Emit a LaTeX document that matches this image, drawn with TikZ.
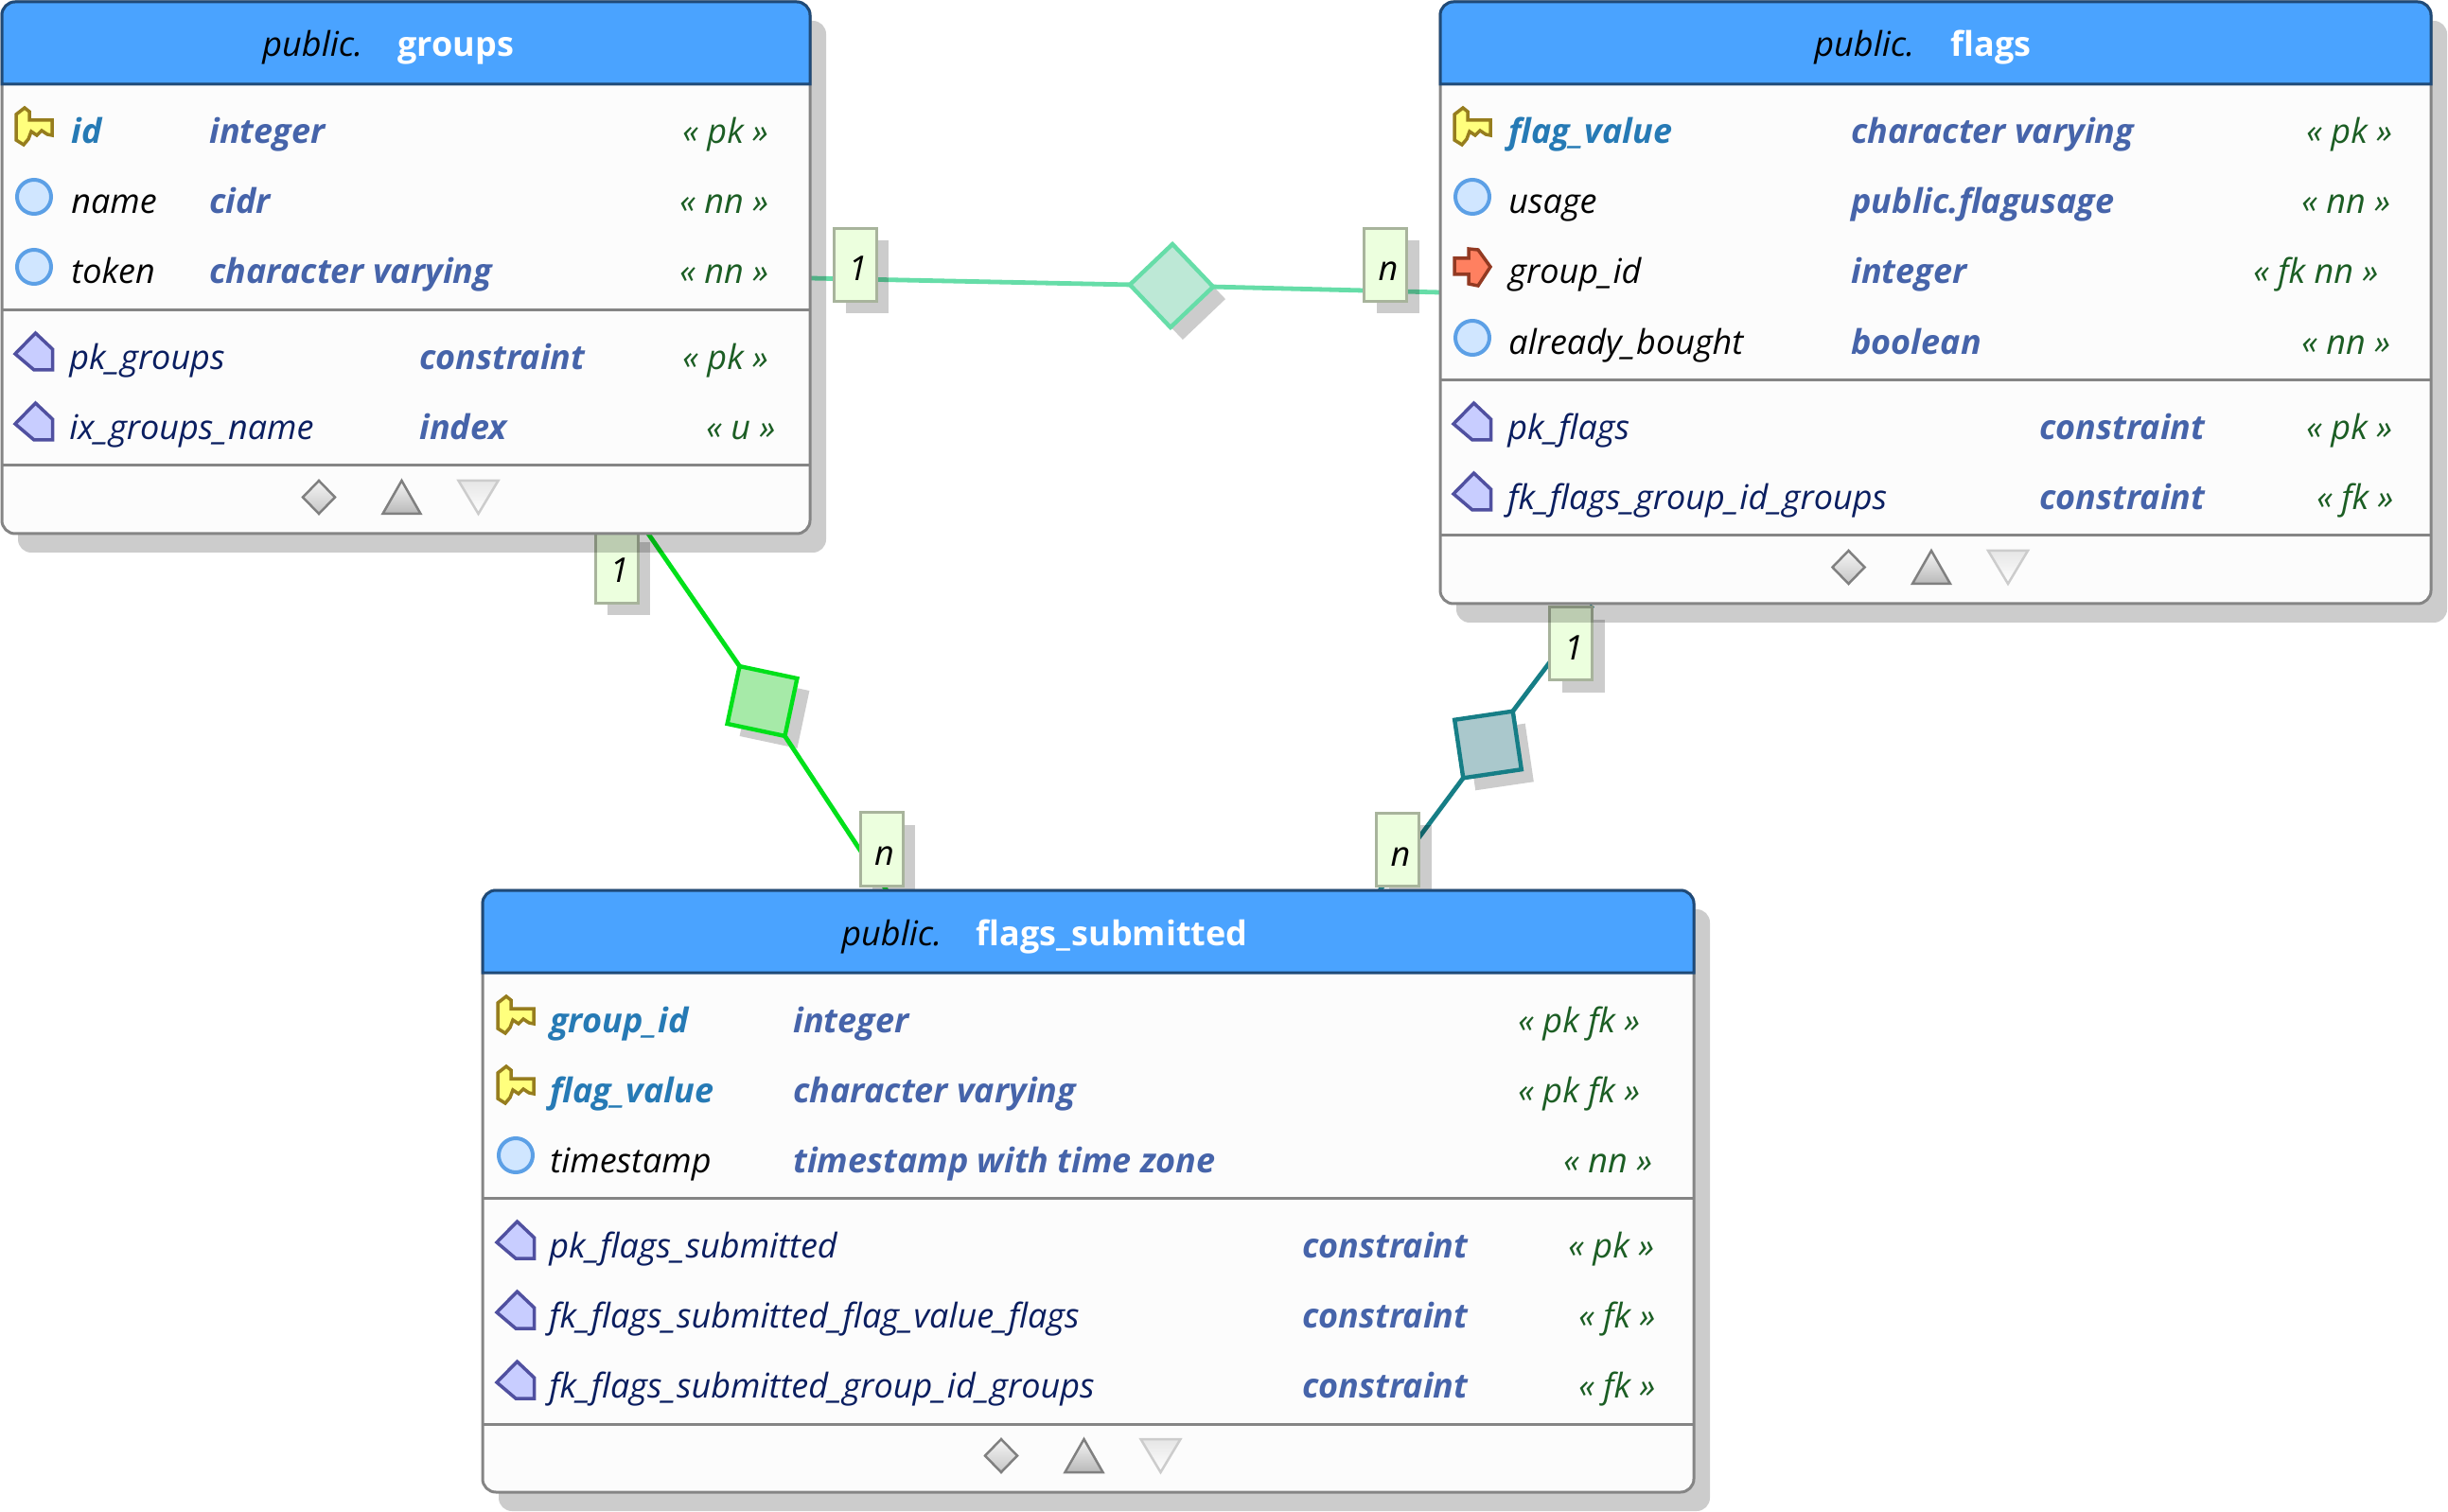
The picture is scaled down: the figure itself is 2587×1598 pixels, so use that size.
\documentclass[tikz,border=0pt]{standalone}
\usepackage{fontspec}
\setmainfont{Open Sans}
\usetikzlibrary{shapes.geometric,shadows}
\definecolor{headBlue}{RGB}{74,163,255}
\definecolor{headLine}{RGB}{31,74,120}
\definecolor{boxLine}{RGB}{133,133,133}
\definecolor{boxFill}{RGB}{252,252,252}
\definecolor{pkText}{RGB}{38,122,181}
\definecolor{typeText}{RGB}{70,100,170}
\definecolor{consText}{RGB}{10,30,96}
\definecolor{tagText}{RGB}{28,94,36}
\definecolor{cardFill}{RGB}{236,255,222}
\definecolor{cardLine}{RGB}{168,180,156}
\definecolor{relA}{RGB}{102,221,168}
\definecolor{relAfill}{RGB}{189,232,214}
\definecolor{relB}{RGB}{0,224,26}
\definecolor{relBfill}{RGB}{166,234,168}
\definecolor{relC}{RGB}{22,126,134}
\definecolor{relCfill}{RGB}{170,200,204}
\definecolor{keyLine}{RGB}{150,125,30}
\definecolor{keyFill}{RGB}{255,255,125}
\definecolor{colLine}{RGB}{92,160,230}
\definecolor{colFill}{RGB}{208,230,255}
\definecolor{fkLine}{RGB}{147,58,34}
\definecolor{fkFill}{RGB}{255,128,96}
\definecolor{consLine}{RGB}{80,80,160}
\definecolor{consFill}{RGB}{200,205,255}
\newcommand{\rowfont}{\fontsize{18pt}{20pt}\selectfont}
\newcommand{\us}{\kern.35pt\_\kern.35pt}

\begin{document}
\begin{tikzpicture}[x=0.5pt,y=-0.5pt,
    tablebox/.style={rectangle,draw=boxLine,fill=boxFill,line width=1.5pt,
                     rounded corners=7pt,anchor=north west,inner sep=0pt,outer sep=0pt,
                     drop shadow={shadow xshift=8.5pt,shadow yshift=-10pt,opacity=.2,fill=black}},
    headtxt/.style={anchor=base west,inner sep=0pt,font=\rowfont\itshape},
    headname/.style={anchor=base west,inner sep=0pt,text=white,font=\rowfont\bfseries},
    pkname/.style={anchor=base west,inner sep=0pt,text=pkText,font=\rowfont\bfseries\itshape},
    colname/.style={anchor=base west,inner sep=0pt,font=\rowfont\itshape},
    consname/.style={anchor=base west,inner sep=0pt,text=consText,font=\rowfont\itshape},
    typename/.style={anchor=base west,inner sep=0pt,text=typeText,font=\rowfont\bfseries\itshape},
    tagname/.style={anchor=base west,inner sep=0pt,text=tagText,font=\rowfont\itshape},
    cardbox/.style={rectangle,draw=cardLine,fill=cardFill,line width=1.5pt,inner sep=0pt,
                    minimum width=22.5pt,minimum height=38.5pt,
                    drop shadow={shadow xshift=6.5pt,shadow yshift=-6.5pt,opacity=.2,fill=black}},
    cardtxt/.style={anchor=base,inner sep=0pt,font=\rowfont\itshape},
    reldia/.style={diamond,aspect=1,minimum size=44pt,inner sep=0pt,outer sep=0pt,line width=2.2pt,
                   drop shadow={shadow xshift=6.5pt,shadow yshift=-6.5pt,opacity=.2,fill=black}},
    relline/.style={line width=2.4pt},
    sepline/.style={draw=boxLine,line width=1.5pt},
    keyicon/.pic={\draw[draw=keyLine,fill=keyFill,line width=1.75pt]
      (-10,-20) -- (-5,-16) -- (-5,-7) -- (19,-7) -- (19,9) -- (14,8) -- (8,4) -- (3,9)
      -- (-3,5) -- (-6,13) -- (-11,19) -- (-19,14) -- (-19,-13) -- cycle;},
    colicon/.pic={\draw[draw=colLine,fill=colFill,line width=2pt] (0,0) circle (18);},
    fkicon/.pic={\draw[draw=fkLine,fill=fkFill,line width=1.75pt]
      (-19,-9) -- (-4,-9) -- (-4,-19) -- (6,-18) -- (19,0) -- (6,20) -- (-4,18)
      -- (-4,8) -- (-19,8) -- cycle;},
    consicon/.pic={\draw[draw=consLine,fill=consFill,line width=1.75pt]
      (1.5,-20) -- (19.5,-3) -- (19.5,19) -- (0,19) -- (-20,2) -- cycle;}]

    \useasboundingbox (0,0) rectangle (2587,1598);

    % Relationship diamonds
    \node[reldia,draw=relA,fill=relAfill,rotate=-1.4] (diaA) at (1238,302) {};
    \node[reldia,draw=relB,fill=relBfill,rotate=33] (diaB) at (805.5,741) {};
    \node[reldia,draw=relC,fill=relCfill,rotate=-36.6] (diaC) at (1572.5,787) {};

    % Connectors
    \coordinate (grpA) at (856,294);
    \coordinate (flgA) at (1522,309);
    \coordinate (grpB) at (685,564);
    \coordinate (subB) at (937,941);
    \coordinate (flgC) at (1683,640);
    \coordinate (subC) at (1458,941);
    \draw[relline,relA] (grpA) -- (diaA.west);
    \draw[relline,relA] (diaA.east) -- (flgA);
    \draw[relline,relB] (grpB) -- (diaB.north);
    \draw[relline,relB] (diaB.south) -- (subB);
    \draw[relline,relC] (flgC) -- (diaC.north);
    \draw[relline,relC] (diaC.south) -- (subC);

    % Cardinality labels
    \foreach \nm/\xa/\ya/\tx in {cardAa/903.5/280/1,cardAb/1464/280/n,cardBa/651.5/599/1,
                                 cardBb/931.5/897.5/n,cardCa/1660/680.5/1,cardCb/1477/898/n} {
      \node[cardbox] (\nm) at (\xa,\ya) {};
      \node[cardtxt] (\nm t) at ([shift={(3,57)}]\nm.north) {\tx};
    }

    % Table frames
    \foreach \nm/\xa/\ya/\w/\h/\ys/\yc in {grp/2/0/854/562/328/492,
                                           flg/1522/0/1047/636/402/566,
                                           sub/510/939/1280/636/327/566} {
      \begin{scope}[shift={(\xa,\ya)}]
        \pgfmathsetmacro{\hw}{\w/2*0.5}
        \pgfmathsetmacro{\hh}{\h*0.5}
        \node[tablebox,minimum width=\hw pt*2,minimum height=\hh pt] (\nm) at (0,2) {};
        \draw[draw=headLine,fill=headBlue,line width=1.5pt]
          (0,89) [rounded corners=7pt] -- (0,2) -- (\w,2) [sharp corners] -- (\w,89) -- cycle;
        \draw[sepline] (0,\ys) -- (\w,\ys);
        \draw[sepline] (0,\yc) -- (\w,\yc);
        \pgfmathsetmacro{\cx}{\w/2}
        \pgfmathsetmacro{\fy}{\h+2-38.5}
        \draw[draw=gray,line width=1.25pt,top color=gray!8,bottom color=gray!45]
          (\cx-92,\fy-17.5) -- (\cx-75,\fy) -- (\cx-92,\fy+17.5) -- (\cx-109,\fy) -- cycle;
        \draw[draw=gray,line width=1.25pt,top color=gray!8,bottom color=gray!55]
          (\cx-4.5,\fy-17.5) -- (\cx+15.5,\fy+17.5) -- (\cx-24.5,\fy+17.5) -- cycle;
        \draw[draw=gray!40,line width=1.25pt,top color=gray!20,bottom color=white]
          (\cx+55.5,\fy-17.5) -- (\cx+97.5,\fy-17.5) -- (\cx+76.5,\fy+17.5) -- cycle;
      \end{scope}
    }

    % groups
    \begin{scope}[shift={(2,0)}]
      \node[headtxt] (grpHa) at (275,60) {public.};
      \node[headname] (grpHb) at (418,60) {groups};
      \foreach \ic/\st/\y/\nm/\ty/\gx/\tg in {
          keyicon/pkname/152/id/integer/719/pk,
          colicon/colname/226/name/cidr/716/nn,
          colicon/colname/300/token/character varying/716/nn} {
        \pic at (34,\y-18) {\ic};
        \node[\st] (grpN\y) at (73,\y) {\nm};
        \node[typename] (grpT\y) at (219,\y) {\ty};
        \node[tagname] (grpS\y) at (\gx,\y) {« \tg{} »};
      }
      \foreach \y/\nm/\ty/\gx/\tg in {
          391/pk\us groups/constraint/719/pk,
          465/ix\us groups\us name/index/744/u} {
        \pic at (34,\y-19) {consicon};
        \node[consname] (grpN\y) at (71,\y) {\nm};
        \node[typename] (grpT\y) at (441,\y) {\ty};
        \node[tagname] (grpS\y) at (\gx,\y) {« \tg{} »};
      }
    \end{scope}

    % flags
    \begin{scope}[shift={(1521,0)}]
      \node[headtxt] (flgHa) at (396,60) {public.};
      \node[headname] (flgHb) at (540,60) {flags};
      \foreach \ic/\st/\y/\nm/\ty/\gx/\tg in {
          keyicon/pkname/152/flag\us value/character varying/916/pk,
          colicon/colname/226/usage/public.flagusage/911/nn,
          fkicon/colname/300/group\us id/integer/860/fk nn,
          colicon/colname/375/already\us bought/boolean/911/nn} {
        \pic at (35,\y-18) {\ic};
        \node[\st] (flgN\y) at (73,\y) {\nm};
        \node[typename] (flgT\y) at (435,\y) {\ty};
        \node[tagname] (flgS\y) at (\gx,\y) {« \tg{} »};
      }
      \foreach \y/\nm/\ty/\gx/\tg in {
          465/pk\us flags/constraint/916/pk,
          539/fk\us flags\us group\us id\us groups/constraint/927/fk} {
        \pic at (35,\y-19) {consicon};
        \node[consname] (flgN\y) at (72,\y) {\nm};
        \node[typename] (flgT\y) at (634,\y) {\ty};
        \node[tagname] (flgS\y) at (\gx,\y) {« \tg{} »};
      }
    \end{scope}

    % flags_submitted
    \begin{scope}[shift={(510,939)}]
      \node[headtxt] (subHa) at (379,60) {public.};
      \node[headname] (subHb) at (521,60) {flags\us submitted};
      \foreach \ic/\st/\y/\nm/\ty/\gx/\tg in {
          keyicon/pkname/152/group\us id/integer/1094/pk fk,
          keyicon/pkname/226/flag\us value/character varying/1094/pk fk,
          colicon/colname/300/timestamp/timestamp with time zone/1142/nn} {
        \pic at (35,\y-18) {\ic};
        \node[\st] (subN\y) at (71,\y) {\nm};
        \node[typename] (subT\y) at (328,\y) {\ty};
        \node[tagname] (subS\y) at (\gx,\y) {« \tg{} »};
      }
      \foreach \y/\nm/\gx/\tg in {
          390/pk\us flags\us submitted/1147/pk,
          464/fk\us flags\us submitted\us flag\us value\us flags/1158/fk,
          538/fk\us flags\us submitted\us group\us id\us groups/1158/fk} {
        \pic at (35,\y-18) {consicon};
        \node[consname] (subN\y) at (70,\y) {\nm};
        \node[typename] (subT\y) at (866,\y) {constraint};
        \node[tagname] (subS\y) at (\gx,\y) {« \tg{} »};
      }
    \end{scope}
\end{tikzpicture}
\end{document}
